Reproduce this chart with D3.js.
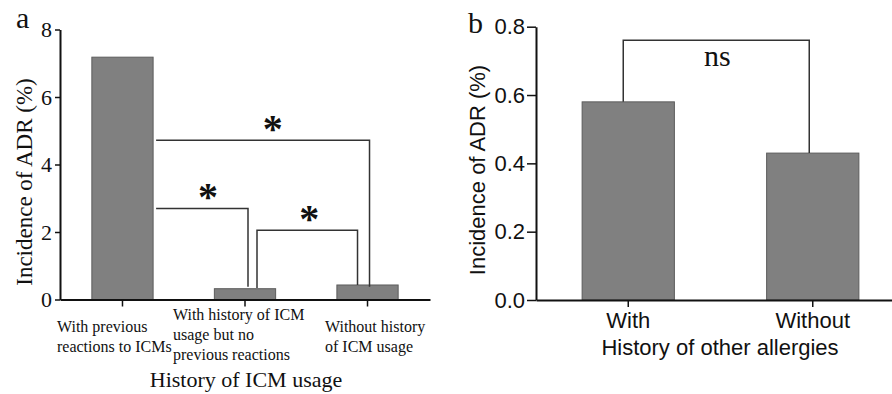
<!DOCTYPE html>
<html>
<head>
<meta charset="utf-8">
<script src="https://cdn.jsdelivr.net/npm/d3@7"></script>
<style>
  body { margin: 0; background: #fff; }
  svg { display: block; }
</style>
</head>
<body>
<script>
// data
var catsA = ["prev", "hist", "none"];
var labelsA = [["With previous", "reactions to ICMs"],
               ["With history of ICM", "usage but no", "previous reactions"],
               ["Without history", "of ICM usage"]];
var valsA = [7.18, 0.32, 0.43];
var ticksA = [0, 2, 4, 6, 8];
// significance brackets: bar a -> bar b, bar height y, drop ends (null = no drop)
var bracketsA = [
  { a: 0, b: 2, y: 4.72, ya: null, yb: 0.38, mark: "*" },
  { a: 0, b: 1, y: 2.7, ya: null, yb: 0.38, mark: "*" },
  { a: 1, b: 2, y: 2.05, ya: 0.34, yb: 0.43, mark: "*" }
];

var catsB = ["With", "Without"];
var valsB = [0.58, 0.43];
var ticksB = [0, 0.2, 0.4, 0.6, 0.8];
var bracketsB = [{ a: 0, b: 1, y: 0.76, ya: 0.58, yb: 0.43, mark: "ns" }];

var w = 892, h = 394;
var serif = "'Liberation Serif', 'Times New Roman', serif";
var sans = "'Liberation Sans', Arial, sans-serif";
var barFill = "#808080", barStroke = "#5c5c5c";

var svg = d3.select("body").append("svg")
    .attr("width", w)
    .attr("height", h);

// ---------------- panel a ----------------
var xa = d3.scaleBand().domain(d3.range(catsA.length))
    .range([60, 430]).paddingInner(0.5).paddingOuter(0.26);
var ya = d3.scaleLinear().domain([0, 8]).range([299.5, 29.5]);

var ga = svg.append("g");

ga.selectAll("rect.bar")
  .data(valsA)
  .enter().append("rect")
    .attr("class", "bar")
    .attr("x", function(d, i) { return xa(i); })
    .attr("y", function(d) { return ya(d); })
    .attr("width", xa.bandwidth())
    .attr("height", function(d) { return ya(0) - ya(d); })
    .attr("fill", barFill)
    .attr("stroke", barStroke)
    .attr("stroke-width", 1);

// y axis
var axA = ga.append("g")
    .attr("transform", "translate(60,0)")
    .call(d3.axisLeft(ya).tickValues(ticksA).tickSize(5).tickPadding(3).tickSizeOuter(0));
axA.select(".domain").attr("stroke", "#111").attr("stroke-width", 2);
axA.selectAll(".tick line").attr("stroke", "#111").attr("stroke-width", 1.5);
axA.selectAll(".tick text").attr("font-family", serif).attr("font-size", 22).attr("fill", "#111");

// x axis (labels drawn by hand, multi-line)
var axAx = ga.append("g")
    .attr("transform", "translate(0," + ya(0) + ")")
    .call(d3.axisBottom(xa).tickSize(7).tickSizeOuter(0).tickFormat(""));
axAx.select(".domain").attr("stroke", "#111").attr("stroke-width", 2);
axAx.selectAll(".tick line").attr("stroke", "#111").attr("stroke-width", 1.5);

var labOffA = [[-65.5, 332], [-72, 320], [-42.5, 332]]; // left edge and first baseline
labelsA.forEach(function(lines, i) {
  var t = ga.append("text")
      .attr("font-family", serif)
      .attr("font-size", 16)
      .attr("fill", "#111");
  lines.forEach(function(s, k) {
    t.append("tspan")
      .attr("x", xa(i) + xa.bandwidth() / 2 + labOffA[i][0])
      .attr("y", labOffA[i][1] + k * 20)
      .text(s);
  });
});

ga.append("text")
    .attr("x", 246).attr("y", 387)
    .attr("text-anchor", "middle")
    .attr("font-family", serif).attr("font-size", 22).attr("fill", "#111")
    .text("History of ICM usage");

ga.append("text")
    .attr("transform", "translate(32,182) rotate(-90)")
    .attr("text-anchor", "middle")
    .attr("font-family", serif).attr("font-size", 23).attr("fill", "#111")
    .text("Incidence of ADR (%)");

ga.append("text")
    .attr("x", 16).attr("y", 28)
    .attr("font-family", serif).attr("font-size", 30).attr("fill", "#111")
    .text("a");

// brackets, panel a  (left nudge, right nudge, star shift)
var nudgeA = [[3, 2, 10], [3, 3, 6], [12, -10, 2]];
bracketsA.forEach(function(br, i) {
  var x1 = br.ya === null ? xa(br.a) + xa.bandwidth() + nudgeA[i][0]
                          : xa(br.a) + xa.bandwidth() / 2 + nudgeA[i][0];
  var x2 = xa(br.b) + xa.bandwidth() / 2 + nudgeA[i][1];
  var p = d3.path();
  if (br.ya !== null) { p.moveTo(x1, ya(br.ya)); p.lineTo(x1, ya(br.y)); }
  else p.moveTo(x1, ya(br.y));
  p.lineTo(x2, ya(br.y));
  p.lineTo(x2, ya(br.yb));
  ga.append("path")
      .attr("d", p.toString())
      .attr("fill", "none")
      .attr("stroke", "#333")
      .attr("stroke-width", 1.5);
  ga.append("text")
      .attr("x", (x1 + x2) / 2 + nudgeA[i][2])
      .attr("y", ya(br.y) + 2)
      .attr("text-anchor", "middle")
      .attr("font-family", serif).attr("font-size", 40).attr("font-weight", "bold")
      .attr("fill", "#111")
      .text(br.mark);
});

// ---------------- panel b ----------------
var xb = d3.scaleBand().domain(catsB)
    .range([536, 905]).paddingInner(0.5).paddingOuter(0.25);
var yb = d3.scaleLinear().domain([0, 0.8]).range([300, 26.7]);

var gb = svg.append("g");

gb.selectAll("rect.bar")
  .data(valsB)
  .enter().append("rect")
    .attr("class", "bar")
    .attr("x", function(d, i) { return xb(catsB[i]); })
    .attr("y", function(d) { return yb(d); })
    .attr("width", xb.bandwidth())
    .attr("height", function(d) { return yb(0) - yb(d); })
    .attr("fill", barFill)
    .attr("stroke", barStroke)
    .attr("stroke-width", 1);

var axB = gb.append("g")
    .attr("transform", "translate(536,0)")
    .call(d3.axisLeft(yb).tickValues(ticksB).tickFormat(d3.format(".1f"))
          .tickSize(9).tickPadding(2).tickSizeOuter(0));
axB.select(".domain").attr("stroke", "#111").attr("stroke-width", 2);
axB.selectAll(".tick line").attr("stroke", "#111").attr("stroke-width", 1.5);
axB.selectAll(".tick text").attr("font-family", sans).attr("font-size", 22).attr("fill", "#111");

var axBx = gb.append("g")
    .attr("transform", "translate(0," + yb(0) + ")")
    .call(d3.axisBottom(xb).tickSize(7).tickPadding(5).tickSizeOuter(0));
axBx.select(".domain").attr("stroke", "#111").attr("stroke-width", 2);
axBx.selectAll(".tick line").attr("stroke", "#111").attr("stroke-width", 1.5);
axBx.selectAll(".tick text").attr("font-family", sans).attr("font-size", 22).attr("fill", "#111");

gb.append("text")
    .attr("x", 720).attr("y", 355)
    .attr("text-anchor", "middle")
    .attr("font-family", sans).attr("font-size", 22).attr("fill", "#111")
    .text("History of other allergies");

gb.append("text")
    .attr("transform", "translate(485,170) rotate(-90)")
    .attr("text-anchor", "middle")
    .attr("font-family", sans).attr("font-size", 22).attr("fill", "#111")
    .text("Incidence of ADR (%)");

gb.append("text")
    .attr("x", 468).attr("y", 33)
    .attr("font-family", serif).attr("font-size", 30).attr("fill", "#111")
    .text("b");

var nudgeB = [[-5, -3.5]];
bracketsB.forEach(function(br, i) {
  var x1 = xb(catsB[br.a]) + xb.bandwidth() / 2 + nudgeB[i][0];
  var x2 = xb(catsB[br.b]) + xb.bandwidth() / 2 + nudgeB[i][1];
  var p = d3.path();
  p.moveTo(x1, yb(br.ya));
  p.lineTo(x1, yb(br.y));
  p.lineTo(x2, yb(br.y));
  p.lineTo(x2, yb(br.yb));
  gb.append("path")
      .attr("d", p.toString())
      .attr("fill", "none")
      .attr("stroke", "#333")
      .attr("stroke-width", 1.5);
  gb.append("text")
      .attr("x", (x1 + x2) / 2 + 1)
      .attr("y", yb(br.y) + 26)
      .attr("text-anchor", "middle")
      .attr("font-family", serif).attr("font-size", 30)
      .attr("fill", "#111")
      .text(br.mark);
});
</script>
</body>
</html>
